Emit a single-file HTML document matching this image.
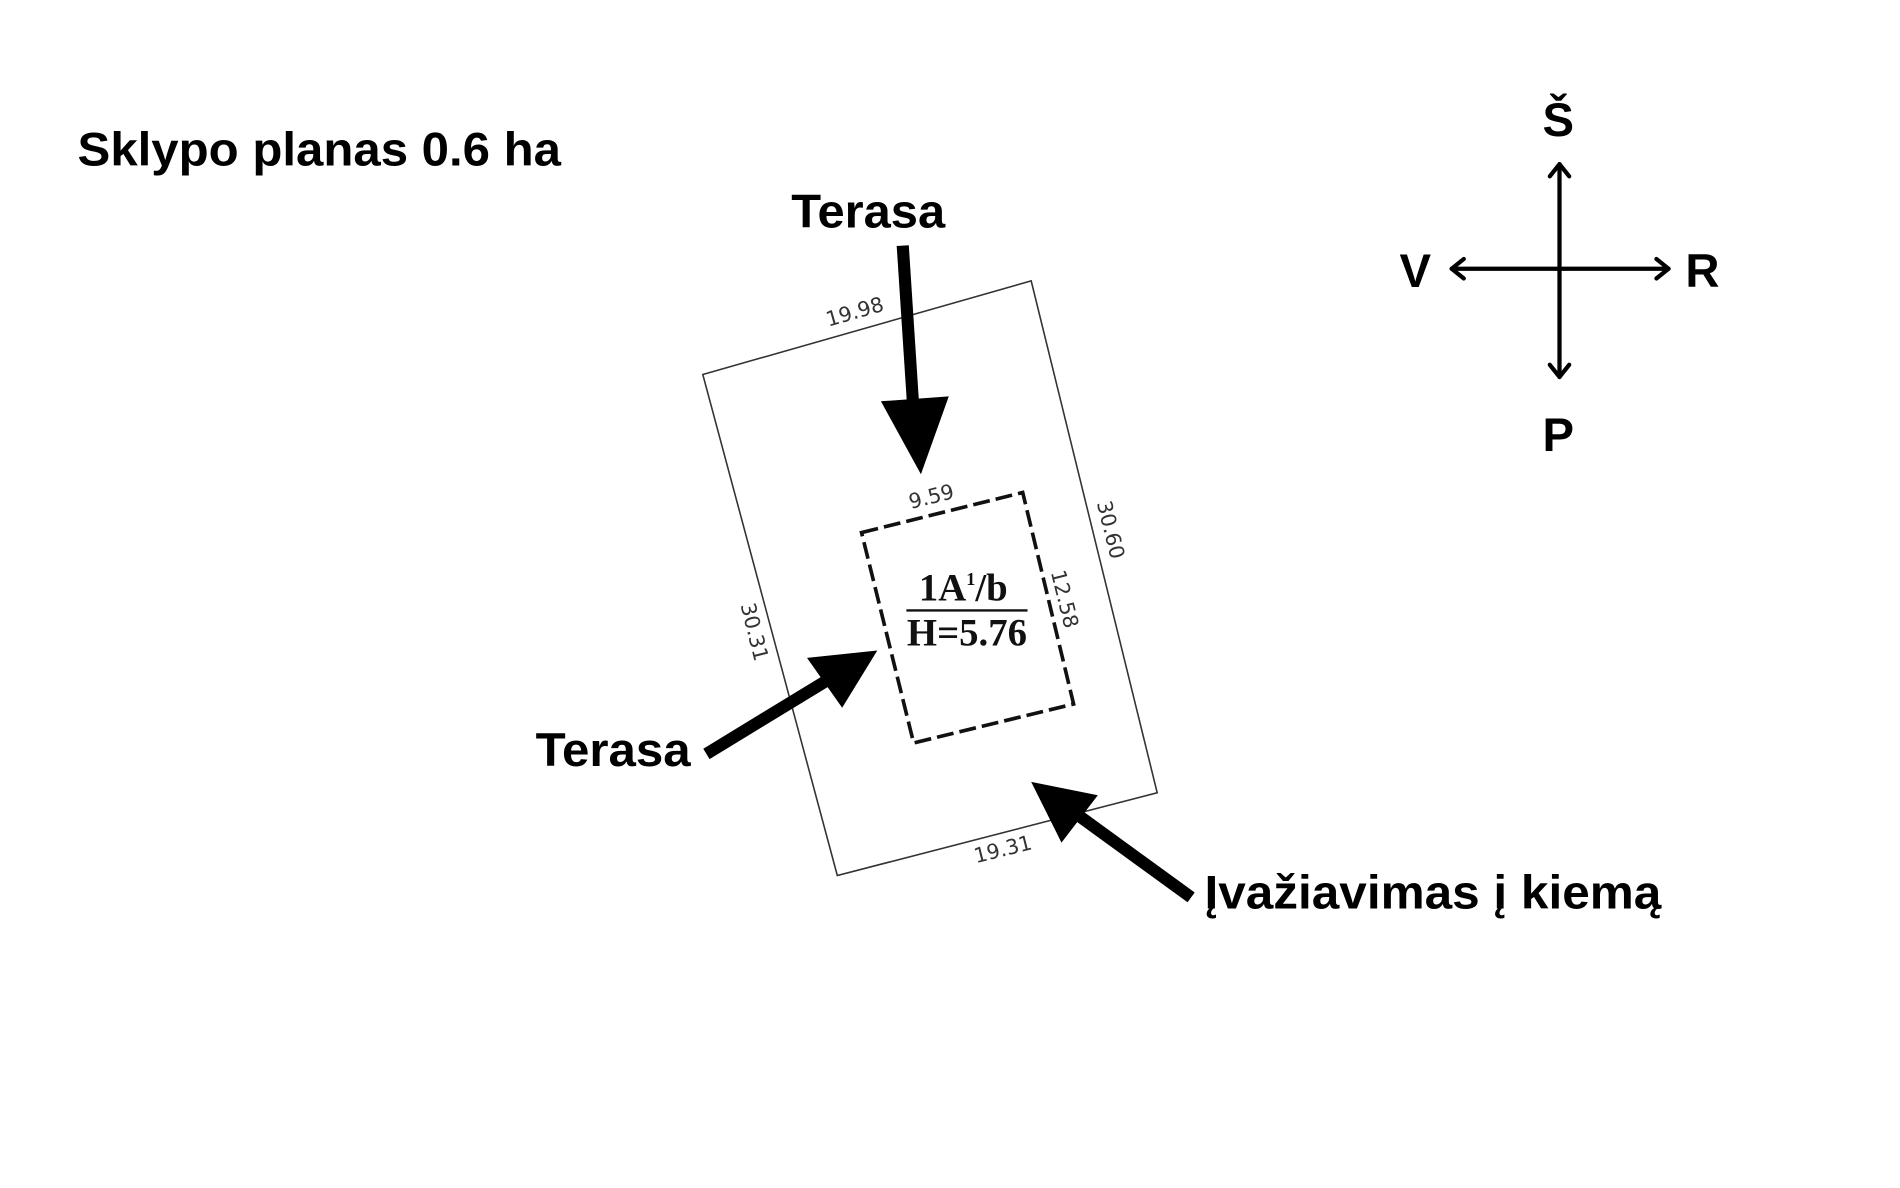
<!DOCTYPE html>
<html><head><meta charset="utf-8"><style>html,body{margin:0;padding:0;background:#fff}svg{display:block}</style></head>
<body>
<svg width="1900" height="1188" viewBox="0 0 1568 977" preserveAspectRatio="none" xmlns="http://www.w3.org/2000/svg">
<rect width="1570" height="980" fill="#fff"/>
<g font-family="Liberation Sans, sans-serif" font-weight="bold" fill="#000">
<text x="64" y="136" font-size="39" textLength="399" lengthAdjust="spacingAndGlyphs">Sklypo planas 0.6 ha</text>
<text x="653" y="187" font-size="39" textLength="127" lengthAdjust="spacingAndGlyphs">Terasa</text>
<text x="442" y="630" font-size="39" textLength="128" lengthAdjust="spacingAndGlyphs">Terasa</text>
<text x="994" y="747" font-size="39" textLength="377" lengthAdjust="spacingAndGlyphs">Įvažiavimas į kiemą</text>
<text x="1286" y="112" font-size="39" text-anchor="middle">Š</text>
<text x="1168" y="236" font-size="39" text-anchor="middle">V</text>
<text x="1405" y="236" font-size="39" text-anchor="middle">R</text>
<text x="1286" y="371" font-size="39" text-anchor="middle">P</text>
</g>
<polygon points="580,308 851,231 955,652 691,720" fill="none" stroke="#333" stroke-width="1.3"/>
<polygon points="711,438 844,405 886,579 754,611" fill="none" stroke="#111" stroke-width="3" stroke-dasharray="14,5"/>
<g font-family="DejaVu Sans, sans-serif" font-size="17" fill="#333">
<text transform="translate(707,262) rotate(-16)" text-anchor="middle">19.98</text>
<text transform="translate(770,414) rotate(-14)" text-anchor="middle">9.59</text>
<text transform="translate(829,704) rotate(-14)" text-anchor="middle">19.31</text>
<text transform="translate(911,437) rotate(76)" text-anchor="middle">30.60</text>
<text transform="translate(873,494) rotate(76)" text-anchor="middle">12.58</text>
<text transform="translate(617,521) rotate(76)" text-anchor="middle">30.31</text>
</g>
<g font-family="Liberation Serif, serif" fill="#111" font-size="32" font-weight="bold">
<text x="795" y="494" text-anchor="middle">1A<tspan font-size="15" dy="-13">1</tspan><tspan dy="13">/b</tspan></text>
<text x="798" y="531" text-anchor="middle">H=5.76</text>
</g>
<line x1="748" y1="502" x2="848" y2="502" stroke="#111" stroke-width="2"/>
<g stroke="#000" stroke-width="10" fill="#000">
<line x1="745" y1="202" x2="754" y2="340"/>
<line x1="583" y1="620" x2="685" y2="558"/>
<line x1="983" y1="738" x2="885" y2="667"/>
</g>
<polygon points="727,330 783,326 760,390" fill="#000"/>
<polygon points="724,535 666,541 695,582" fill="#000"/>
<polygon points="851,643 906,654 876,693" fill="#000"/>
<g stroke="#000" stroke-width="3.5" fill="none" stroke-linecap="round" stroke-linejoin="round">
<line x1="1287" y1="135" x2="1287" y2="310"/>
<line x1="1198" y1="221" x2="1377" y2="221"/>
<polyline points="1279,145 1287,135 1295,145"/>
<polyline points="1279,300 1287,310 1295,300"/>
<polyline points="1208,213 1198,221 1208,229"/>
<polyline points="1367,213 1377,221 1367,229"/>
</g>
</svg>
</body></html>
